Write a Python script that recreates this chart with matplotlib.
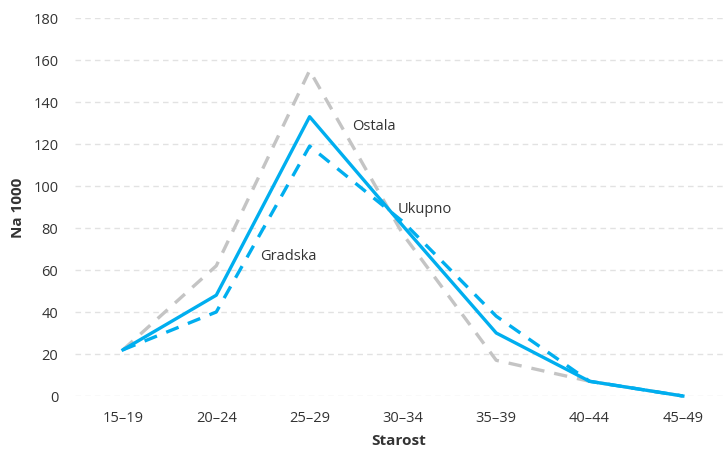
import matplotlib
matplotlib.use('Agg')
import matplotlib.pyplot as plt

plt.rcParams['font.family'] = ['Open Sans', 'DejaVu Sans']

ages = ['15–19', '20–24', '25–29', '30–34', '35–39', '40–44', '45–49']
ukupno = [22, 48, 133, 81, 30, 7, 0]
gradska = [22, 40, 119, 83, 38, 7, 0]
ostala = [22, 62, 155, 77, 17, 7, 0]

blue = '#00aeef'
gray = '#c4c4c4'
text_col = '#333333'

fig = plt.figure(figsize=(7.23, 4.52), dpi=100)
ax = fig.add_axes([75 / 723, 55 / 452, 648 / 723, 378 / 452])

x = range(len(ages))
ax.plot(x, ostala, color=gray, lw=2.4, dashes=(4, 3), clip_on=False, zorder=2)
ax.plot(x, gradska, color=blue, lw=2.4, dashes=(4, 3), clip_on=False, zorder=3)
ax.plot(x, ukupno, color=blue, lw=2.4, clip_on=False, zorder=4)

ax.text(2.46, 129, 'Ostala', fontsize=10.5, color=text_col, va='center')
ax.text(2.94, 89.5, 'Ukupno', fontsize=10.5, color=text_col, va='center')
ax.text(1.47, 67, 'Gradska', fontsize=10.5, color=text_col, va='center')

ax.set_xlim(-0.514, 6.43)
ax.set_ylim(0, 180)
ax.set_yticks(range(0, 181, 20))
ax.set_xticks(list(x))
ax.set_xticklabels(ages)
ax.yaxis.grid(True, color='#e2e2e2', lw=1, dashes=(4, 3))
ax.set_axisbelow(True)
for s in ax.spines.values():
    s.set_visible(False)
ax.tick_params(length=0, labelsize=10.5, labelcolor=text_col, pad=10)
ax.tick_params(axis='y', pad=12)
ax.set_xlabel('Starost', fontsize=11, fontweight='bold', color=text_col, labelpad=6)
ax.set_ylabel('Na 1000', fontsize=11, fontweight='bold', color=text_col, labelpad=6)

fig.savefig('out.png', dpi=100)
